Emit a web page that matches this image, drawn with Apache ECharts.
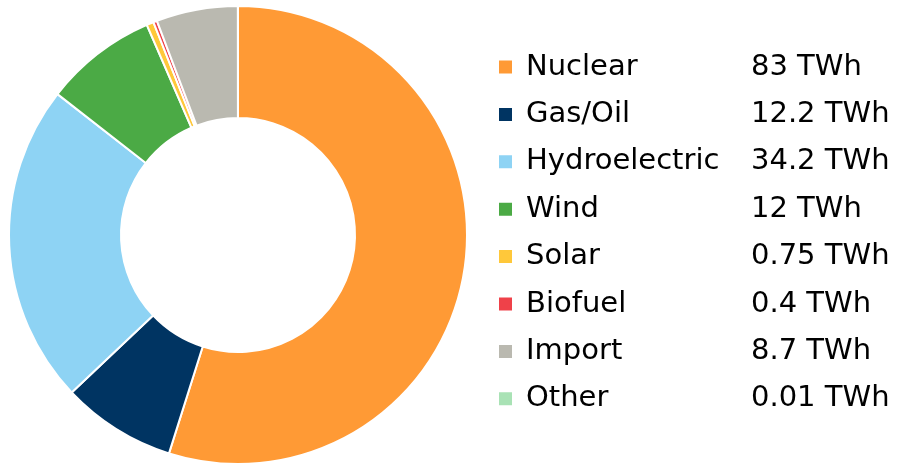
<!DOCTYPE html>
<html>
<head>
<meta charset="utf-8">
<script src="https://cdn.jsdelivr.net/npm/echarts@6/dist/echarts.min.js"></script>
<style>html,body{margin:0;padding:0;background:#fff;}#c{width:907px;height:466px;}</style>
</head>
<body>
<div id="c"></div>
<script>
var categories = ['Nuclear', 'Gas/Oil', 'Hydroelectric', 'Wind', 'Solar', 'Biofuel', 'Import', 'Other'];
var values = [83, 12.2, 34.2, 12, 0.75, 0.4, 8.7, 0.01];
var valueLabels = ['83 TWh', '12.2 TWh', '34.2 TWh', '12 TWh', '0.75 TWh', '0.4 TWh', '8.7 TWh', '0.01 TWh'];
var colors = ['#FF9A35', '#003462', '#8ED3F4', '#4BAA45', '#FFC83A', '#EF4149', '#BAB9B0', '#A9E2B5'];

var chart = echarts.init(document.getElementById('c'));
chart.setOption({
  animation: false,
  color: colors,
  legend: {
    orient: 'vertical',
    left: 497,
    top: 51,
    padding: 0,
    itemWidth: 15,
    itemHeight: 15,
    itemGap: 15.4,
    icon: 'rect',
    selectedMode: false,
    formatter: function (name) {
      var i = categories.indexOf(name);
      return '{n|' + name + '}{v|' + valueLabels[i] + '}';
    },
    textStyle: {
      fontFamily: 'DejaVu Sans',
      fontSize: 29,
      color: '#000',
      lineHeight: 32,
      rich: {
        n: { fontFamily: 'DejaVu Sans', fontSize: 29, color: '#000', width: 225, padding: [0, 0, 0, 8], lineHeight: 32 },
        v: { fontFamily: 'DejaVu Sans', fontSize: 29, color: '#000', lineHeight: 32 }
      }
    }
  },
  series: [{
    type: 'pie',
    center: [238, 235],
    radius: [117, 229],
    startAngle: 90,
    clockwise: true,
    avoidLabelOverlap: false,
    label: { show: false },
    labelLine: { show: false },
    emphasis: { disabled: true },
    itemStyle: { borderColor: '#fff', borderWidth: 2 },
    data: categories.map(function (c, i) { return { name: c, value: values[i] }; })
  }]
});
</script>
</body>
</html>
